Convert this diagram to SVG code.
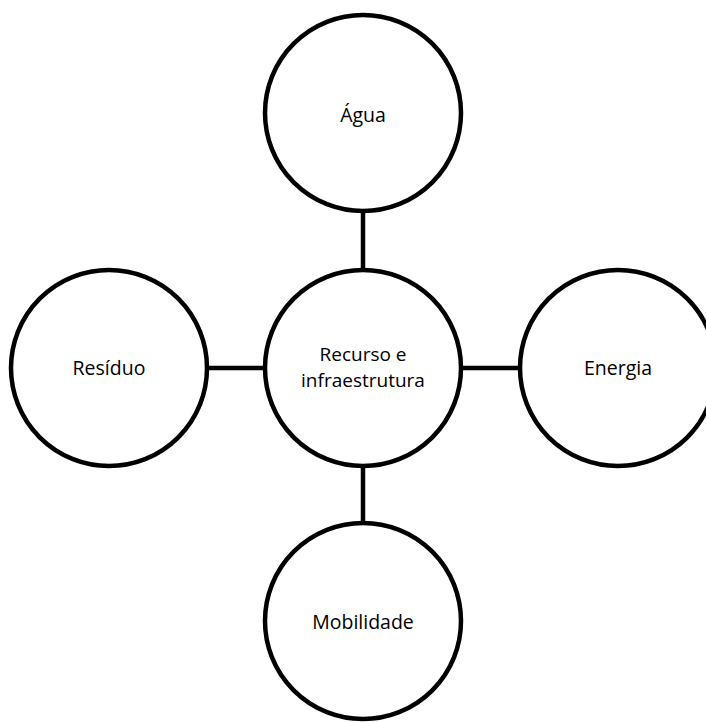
<svg xmlns="http://www.w3.org/2000/svg" width="706" height="722" viewBox="0 0 706 722">
  <style>
    .node circle { fill: #ffffff; stroke: #000000; stroke-width: 4.5; }
    .node text { font-family: "Open Sans", "Liberation Sans", sans-serif; font-size: 19.5px; fill: #000000; text-anchor: middle; }
    .node text.two { font-size: 19px; }
    .links line { stroke: #000000; stroke-width: 4.5; }
  </style>
  <rect width="706" height="722" fill="#ffffff"/>
  <g class="links">
    <line x1="363" y1="211" x2="363" y2="270"/>
    <line x1="363" y1="465" x2="363" y2="523"/>
    <line x1="207" y1="368" x2="265" y2="368"/>
    <line x1="461" y1="368" x2="520" y2="368"/>
  </g>
  <g id="node-center" class="node">
    <circle cx="363" cy="368" r="98"/>
    <text class="two" x="363" y="361">Recurso e</text>
    <text class="two" x="363" y="387">infraestrutura</text>
  </g>
  <g id="node-agua" class="node">
    <circle cx="363" cy="113" r="98"/>
    <text x="363" y="122">Água</text>
  </g>
  <g id="node-residuo" class="node">
    <circle cx="109" cy="368" r="98"/>
    <text x="109" y="375">Resíduo</text>
  </g>
  <g id="node-energia" class="node">
    <circle cx="618" cy="368" r="98"/>
    <text x="618" y="375">Energia</text>
  </g>
  <g id="node-mobilidade" class="node">
    <circle cx="363" cy="621" r="98"/>
    <text x="363" y="629">Mobilidade</text>
  </g>
</svg>
